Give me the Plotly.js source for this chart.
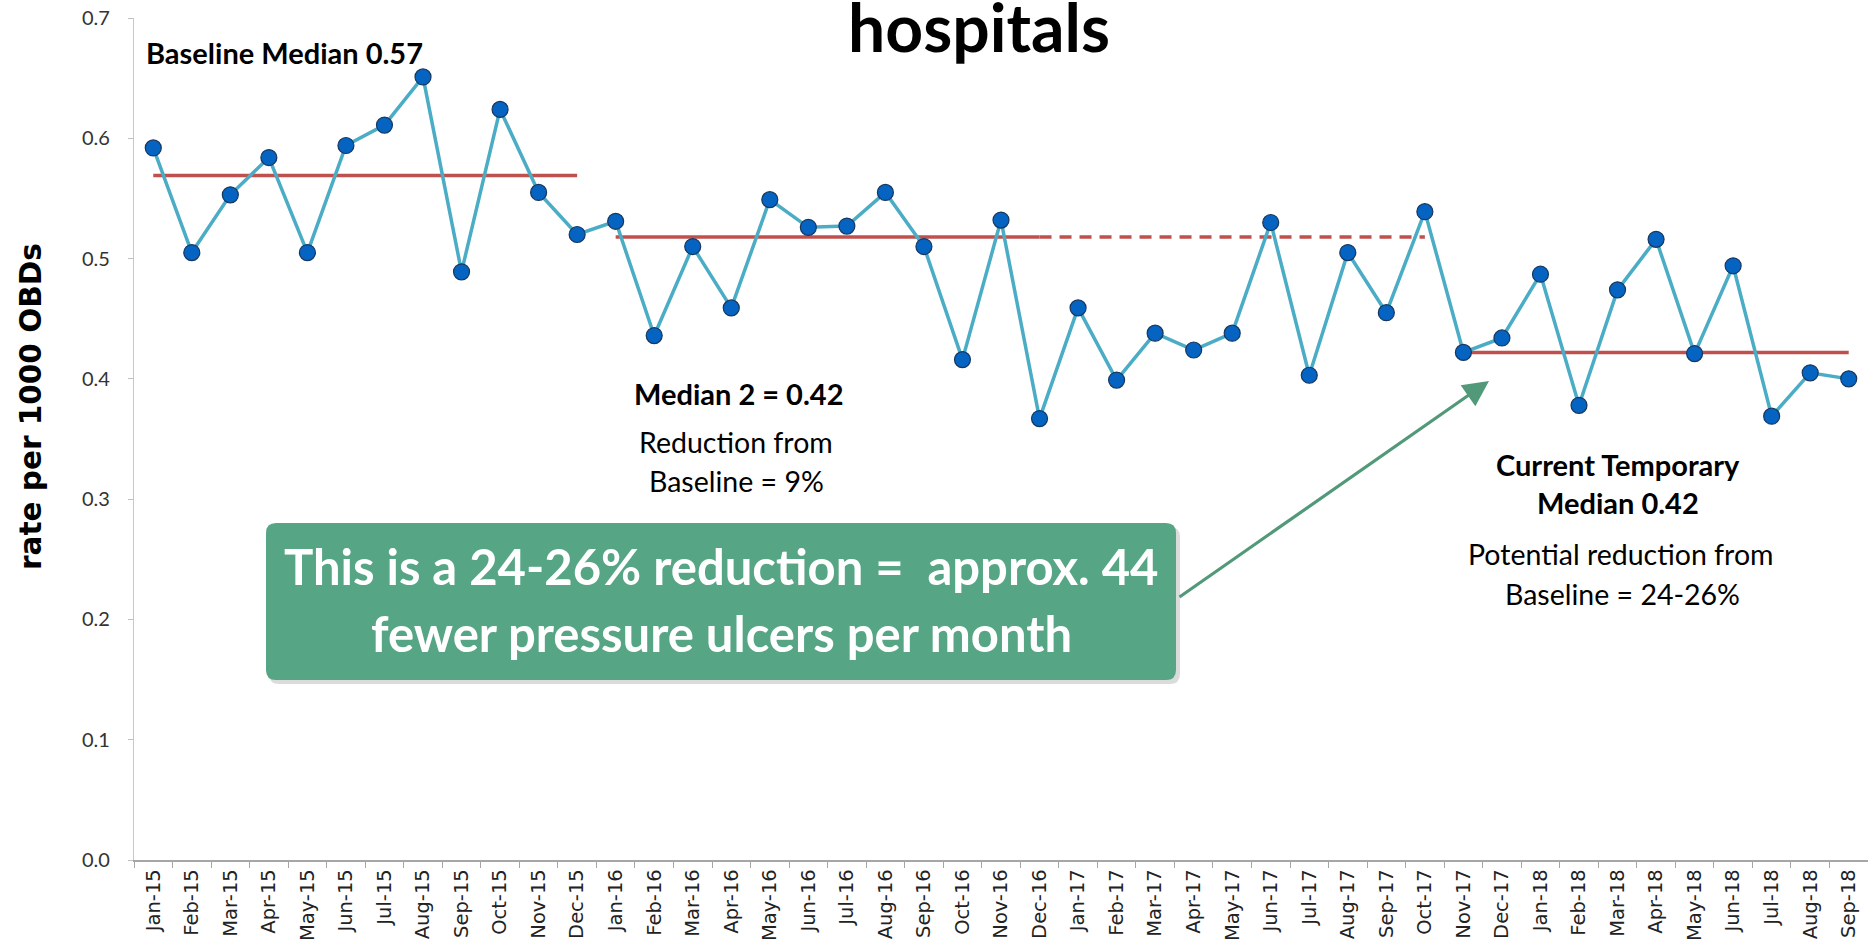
<!DOCTYPE html>
<html>
<head>
<meta charset="utf-8">
<script src="https://cdn.plot.ly/plotly-3.0.1.min.js"></script>
<style>html,body{margin:0;padding:0;background:#fff;}#chart{width:1868px;height:949px;}</style>
</head>
<body>
<div id="chart"></div>
<script>
// ---- data ----
const months = ['Jan-15','Feb-15','Mar-15','Apr-15','May-15','Jun-15','Jul-15','Aug-15','Sep-15','Oct-15','Nov-15','Dec-15',
  'Jan-16','Feb-16','Mar-16','Apr-16','May-16','Jun-16','Jul-16','Aug-16','Sep-16','Oct-16','Nov-16','Dec-16',
  'Jan-17','Feb-17','Mar-17','Apr-17','May-17','Jun-17','Jul-17','Aug-17','Sep-17','Oct-17','Nov-17','Dec-17',
  'Jan-18','Feb-18','Mar-18','Apr-18','May-18','Jun-18','Jul-18','Aug-18','Sep-18'];
const rates = [0.592,0.505,0.553,0.584,0.505,0.594,0.611,0.651,0.489,0.624,0.555,0.520,
  0.531,0.436,0.510,0.459,0.549,0.526,0.527,0.555,0.510,0.416,0.532,0.367,
  0.459,0.399,0.438,0.424,0.438,0.530,0.403,0.505,0.455,0.539,0.422,0.434,
  0.487,0.378,0.474,0.516,0.421,0.494,0.369,0.405,0.400];
const baselineMedian = 0.569;   // Jan-15 .. Dec-15
const median2 = 0.518;          // Jan-16 .. Dec-16 solid, extended dashed to Oct-17
const median3 = 0.422;          // Nov-17 .. Sep-18
const yTicks = [0, 0.1, 0.2, 0.3, 0.4, 0.5, 0.6, 0.7];

function seg(a, b) { return months.slice(months.indexOf(a), months.indexOf(b) + 1); }
function flat(xs, v) { return xs.map(() => v); }

const redCol = '#C0504D';
const s1 = seg('Jan-15', 'Dec-15');
const s2 = seg('Jan-16', 'Dec-16');
const s2d = seg('Dec-16', 'Oct-17');
const s3 = seg('Nov-17', 'Sep-18');

const traces = [
  {x: s1, y: flat(s1, baselineMedian), mode: 'lines', line: {color: redCol, width: 3.5}, hoverinfo: 'skip'},
  {x: s2, y: flat(s2, median2), mode: 'lines', line: {color: redCol, width: 3.5}, hoverinfo: 'skip'},
  {x: s2d, y: flat(s2d, median2), mode: 'lines', line: {color: redCol, width: 3.5, dash: '12px,8px'}, hoverinfo: 'skip'},
  {x: s3, y: flat(s3, median3), mode: 'lines', line: {color: redCol, width: 3.5}, hoverinfo: 'skip'},
  {x: months, y: rates, mode: 'lines+markers',
   line: {color: '#4BACC6', width: 3.5},
   marker: {color: '#0563C1', size: 16, line: {color: '#17375E', width: 1.2}}}
];

// pixel -> paper helpers (plot area: x 134..1868, y 18..860)
const L = 134, R = 1868, T = 18, B = 860;
const px = v => (v - L) / (R - L);
const py = v => (B - v) / (B - T);

const txt = (t, x, y, size, bold, anchor) => ({
  text: bold ? '<b>' + t + '</b>' : t, xref: 'paper', yref: 'paper', x: px(x), y: py(y),
  xanchor: anchor || 'center', yanchor: 'middle', showarrow: false,
  font: {family: 'Lato, sans-serif', size: size, color: '#000'}
});

const bx0 = 266, bx1 = 1176, by0 = 523, by1 = 680, r = 10;
function roundRect(x0, y0, x1, y1, rr) {
  const X = v => px(v), Y = v => py(v);
  return `M ${X(x0 + rr)} ${Y(y0)} L ${X(x1 - rr)} ${Y(y0)} Q ${X(x1)} ${Y(y0)} ${X(x1)} ${Y(y0 + rr)} ` +
         `L ${X(x1)} ${Y(y1 - rr)} Q ${X(x1)} ${Y(y1)} ${X(x1 - rr)} ${Y(y1)} ` +
         `L ${X(x0 + rr)} ${Y(y1)} Q ${X(x0)} ${Y(y1)} ${X(x0)} ${Y(y1 - rr)} ` +
         `L ${X(x0)} ${Y(y0 + rr)} Q ${X(x0)} ${Y(y0)} ${X(x0 + rr)} ${Y(y0)} Z`;
}

const layout = {
  width: 1868, height: 949,
  margin: {l: L, r: 0, t: T, b: 949 - B},
  paper_bgcolor: '#fff', plot_bgcolor: '#fff',
  showlegend: false,
  title: {text: '<b>hospitals</b>', x: 979 / 1868, xanchor: 'center', xref: 'container',
          y: 1 - 29 / 949, yref: 'container', yanchor: 'middle',
          font: {family: 'Lato, sans-serif', size: 66, color: '#000'}},
  xaxis: {
    type: 'category', categoryorder: 'array', categoryarray: months,
    range: [-0.5, 44.5], tickmode: 'array', tickvals: months, ticktext: months,
    tickangle: -90, ticks: 'outside', ticklen: 6, tickcolor: '#a6a6a6', tickson: 'boundaries',
    showline: true, linecolor: '#a6a6a6', linewidth: 1.5, showgrid: false, zeroline: false,
    tickfont: {family: 'DejaVu Sans, sans-serif', size: 19.5, color: '#222'}, fixedrange: true
  },
  yaxis: {
    range: [0, 0.7], tickmode: 'array', tickvals: yTicks, tickformat: '.1f',
    ticks: 'outside', ticklen: 5, tickcolor: '#bfbfbf', ticklabelstandoff: 14,
    showline: true, linecolor: '#c8c8c8', linewidth: 1.2, showgrid: false, zeroline: false,
    tickfont: {family: 'Lato, sans-serif', size: 20, color: '#333'},
    fixedrange: true
  },
  shapes: [
    {type: 'path', xref: 'paper', yref: 'paper', path: roundRect(bx0 + 3, by0 + 4, bx1 + 4, by1 + 4, r),
     fillcolor: 'rgba(0,0,0,0.14)', line: {width: 0}, layer: 'above'},
    {type: 'path', xref: 'paper', yref: 'paper', path: roundRect(bx0, by0, bx1, by1, r),
     fillcolor: '#56A585', line: {width: 0}, layer: 'above'}
  ],
  annotations: [
    {text: '<b>rate per 1000 OBDs</b>', xref: 'paper', yref: 'paper', x: px(31), y: py(407),
     xanchor: 'center', yanchor: 'middle', textangle: -90, showarrow: false,
     font: {family: 'DejaVu Sans, sans-serif', size: 29.5, color: '#000'}},
    txt('Baseline Median 0.57', 144, 52, 29, true, 'left'),
    txt('Median 2 = 0.42', 738, 393, 29, true),
    txt('Reduction from', 736, 442, 28.5, false),
    txt('Baseline = 9%', 736, 481, 28.5, false),
    txt('Current Temporary', 1618, 464, 29, true),
    txt('Median 0.42', 1618, 502, 29, true),
    txt('Potential reduction from', 1621, 554, 28.5, false),
    txt('Baseline = 24-26%', 1622, 594, 28.5, false),
    {text: '<b>This is a 24-26% reduction =  approx. 44</b>', xref: 'paper', yref: 'paper',
     x: px(721), y: py(566), xanchor: 'center', yanchor: 'middle', showarrow: false,
     font: {family: 'Lato, sans-serif', size: 49, color: '#fff'}},
    {text: '<b>fewer pressure ulcers per month</b>', xref: 'paper', yref: 'paper',
     x: px(721), y: py(633), xanchor: 'center', yanchor: 'middle', showarrow: false,
     font: {family: 'Lato, sans-serif', size: 49, color: '#fff'}},
    {text: '', xref: 'paper', yref: 'paper', x: px(1489), y: py(381),
     axref: 'pixel', ayref: 'pixel', ax: 1178 - 1489, ay: 598 - 381,
     showarrow: true, arrowhead: 2, arrowsize: 1.6, arrowwidth: 3.2, arrowcolor: '#52997A', standoff: 0}
  ]
};

Plotly.newPlot('chart', traces, layout, {displayModeBar: false, staticPlot: true});
</script>
</body>
</html>
